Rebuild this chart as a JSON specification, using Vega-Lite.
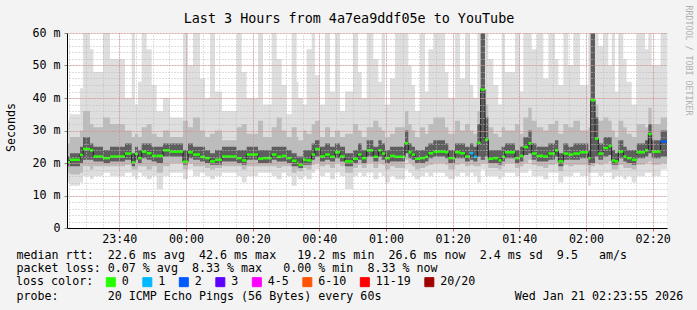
{
  "$schema": "https://vega.github.io/schema/vega-lite/v6.json",
  "width": 600,
  "height": 195,
  "autosize": {"type": "none"},
  "padding": {"left": 67, "top": 33, "right": 30, "bottom": 82},
  "background": "#f3f3f3",
  "config": {
    "font": "DejaVu Sans Mono",
    "view": {"stroke": null, "fill": "white"},
    "axis": {"labelFont": "DejaVu Sans Mono", "titleFont": "DejaVu Sans Mono", "labelFontSize": 11.66, "labelColor": "black", "titleFontWeight": "normal", "titleColor": "black", "titleFontSize": 11.66, "labelOverlap": false}
  },
  "data": {"values": [
    {"t":-35.7,"m":20.2,"lo":14,"l2":17,"l3":19,"h3":22,"h2":26,"hi":33,"c":"0"},
    {"t":-34.8,"m":21,"lo":13,"l2":16.5,"l3":19,"h3":23,"h2":28,"hi":35,"c":"0"},
    {"t":-31.8,"m":22.5,"lo":14,"l2":17,"l3":20,"h3":25,"h2":30,"hi":43,"c":"0"},
    {"t":-30.9,"m":24.3,"lo":16,"l2":19,"l3":21,"h3":28,"h2":36,"hi":60,"c":"0"},
    {"t":-28.8,"m":23.9,"lo":15,"l2":18,"l3":21,"h3":26,"h2":32,"hi":55,"c":"0"},
    {"t":-27.8,"m":22,"lo":16,"l2":19,"l3":20.5,"h3":25,"h2":31,"hi":48,"c":"0"},
    {"t":-24.9,"m":21.5,"lo":17,"l2":19,"l3":20,"h3":24,"h2":34,"hi":60,"c":"0"},
    {"t":-22.8,"m":22,"lo":16,"l2":19,"l3":20.5,"h3":25,"h2":32,"hi":52,"c":"0"},
    {"t":-18.3,"m":22.9,"lo":17,"l2":19.5,"l3":21,"h3":26,"h2":30,"hi":40,"c":"0"},
    {"t":-16.3,"m":20.2,"lo":16,"l2":18,"l3":19,"h3":23,"h2":28,"hi":60,"c":"0"},
    {"t":-15.3,"m":22.8,"lo":15,"l2":18,"l3":21,"h3":25,"h2":29,"hi":38,"c":"0"},
    {"t":-14.4,"m":21.5,"lo":17,"l2":19,"l3":20,"h3":24,"h2":28,"hi":45,"c":"0"},
    {"t":-13.3,"m":23.5,"lo":16,"l2":19,"l3":21.5,"h3":26,"h2":31,"hi":60,"c":"0"},
    {"t":-11.8,"m":23,"lo":15,"l2":18,"l3":21,"h3":26,"h2":32,"hi":55,"c":"0"},
    {"t":-10.3,"m":22.2,"lo":16,"l2":19,"l3":20.5,"h3":25,"h2":29,"hi":44,"c":"0"},
    {"t":-8.8,"m":22.2,"lo":12,"l2":17,"l3":20,"h3":25,"h2":28,"hi":36,"c":"0"},
    {"t":-6.9,"m":23.9,"lo":16,"l2":19,"l3":22,"h3":26,"h2":30,"hi":40,"c":"0"},
    {"t":-4.8,"m":23.5,"lo":17,"l2":20,"l3":22,"h3":26,"h2":28,"hi":34,"c":"0"},
    {"t":-0.9,"m":20.4,"lo":15,"l2":18,"l3":19.5,"h3":24,"h2":33,"hi":60,"c":"0"},
    {"t":0.6,"m":23.3,"lo":18,"l2":20,"l3":21.5,"h3":26,"h2":31,"hi":50,"c":"0"},
    {"t":2.1,"m":22.6,"lo":16,"l2":19,"l3":21,"h3":25,"h2":34,"hi":60,"c":"0"},
    {"t":4.2,"m":21.9,"lo":17,"l2":19,"l3":20.5,"h3":25,"h2":30,"hi":46,"c":"0"},
    {"t":5.7,"m":21.5,"lo":16,"l2":18.5,"l3":20,"h3":24,"h2":28,"hi":40,"c":"0"},
    {"t":7.2,"m":20.5,"lo":15,"l2":18,"l3":19.5,"h3":23,"h2":29,"hi":60,"c":"0"},
    {"t":8.7,"m":21,"lo":16,"l2":18.5,"l3":19.5,"h3":24,"h2":30,"hi":42,"c":"0"},
    {"t":10.8,"m":22,"lo":17,"l2":19,"l3":20.5,"h3":25,"h2":27,"hi":36,"c":"0"},
    {"t":15.2,"m":21.5,"lo":16,"l2":19,"l3":20,"h3":24,"h2":31,"hi":60,"c":"0"},
    {"t":16.7,"m":20.8,"lo":14,"l2":18,"l3":19.5,"h3":24,"h2":32,"hi":48,"c":"0"},
    {"t":18.2,"m":22.6,"lo":16,"l2":19,"l3":21,"h3":25,"h2":29,"hi":40,"c":"0"},
    {"t":21.6,"m":21.3,"lo":17,"l2":19,"l3":20,"h3":24,"h2":33,"hi":60,"c":"0"},
    {"t":23.1,"m":21.5,"lo":17,"l2":19,"l3":20,"h3":24,"h2":28,"hi":38,"c":"0"},
    {"t":25.7,"m":22.6,"lo":16,"l2":19,"l3":21,"h3":25,"h2":31,"hi":60,"c":"0"},
    {"t":27.2,"m":21.9,"lo":15,"l2":18.5,"l3":20.5,"h3":25,"h2":34,"hi":52,"c":"0"},
    {"t":28.7,"m":22.2,"lo":17,"l2":19,"l3":20.5,"h3":25,"h2":30,"hi":44,"c":"0"},
    {"t":30.2,"m":21.5,"lo":16,"l2":19,"l3":20,"h3":24,"h2":28,"hi":35,"c":"0"},
    {"t":31.7,"m":20.7,"lo":13,"l2":17,"l3":19,"h3":23,"h2":31,"hi":60,"c":"0"},
    {"t":33.2,"m":20,"lo":16,"l2":18,"l3":19,"h3":22,"h2":28,"hi":45,"c":"0"},
    {"t":33.7,"m":19.4,"lo":15,"l2":17.5,"l3":18.5,"h3":22,"h2":27,"hi":40,"c":"0"},
    {"t":35.1,"m":21,"lo":16,"l2":18.5,"l3":19.5,"h3":24,"h2":30,"hi":38,"c":"0"},
    {"t":36.2,"m":20.8,"lo":15,"l2":18,"l3":19.5,"h3":24,"h2":29,"hi":55,"c":"0"},
    {"t":37.7,"m":22.6,"lo":17,"l2":19.5,"l3":21,"h3":26,"h2":32,"hi":60,"c":"0"},
    {"t":38.7,"m":24.3,"lo":18,"l2":20,"l3":22,"h3":27,"h2":33,"hi":47,"c":"0"},
    {"t":40.2,"m":22,"lo":16,"l2":19,"l3":20.5,"h3":25,"h2":28,"hi":38,"c":"0"},
    {"t":41.7,"m":22.6,"lo":17,"l2":19.5,"l3":21,"h3":26,"h2":31,"hi":60,"c":"0"},
    {"t":43.2,"m":21.9,"lo":15,"l2":18.5,"l3":20.5,"h3":25,"h2":28,"hi":42,"c":"0"},
    {"t":44.7,"m":23.3,"lo":17,"l2":20,"l3":21.5,"h3":26,"h2":30,"hi":60,"c":"0"},
    {"t":46.2,"m":22,"lo":16,"l2":19,"l3":20.5,"h3":25,"h2":28,"hi":36,"c":"0"},
    {"t":47.7,"m":20.5,"lo":12,"l2":17,"l3":19,"h3":23,"h2":29,"hi":42,"c":"0"},
    {"t":50.1,"m":21.3,"lo":16,"l2":18.5,"l3":20,"h3":24,"h2":32,"hi":60,"c":"0"},
    {"t":51.6,"m":22.6,"lo":17,"l2":19.5,"l3":21,"h3":26,"h2":30,"hi":48,"c":"0"},
    {"t":52.7,"m":21.5,"lo":16,"l2":18.5,"l3":20,"h3":24,"h2":28,"hi":40,"c":"0"},
    {"t":54.2,"m":23.9,"lo":17,"l2":20,"l3":22,"h3":27,"h2":31,"hi":60,"c":"0"},
    {"t":56.2,"m":21.9,"lo":15,"l2":18.5,"l3":20.5,"h3":25,"h2":33,"hi":52,"c":"0"},
    {"t":57.7,"m":23.9,"lo":17,"l2":20,"l3":22,"h3":27,"h2":31,"hi":45,"c":"0"},
    {"t":58.7,"m":22.9,"lo":16,"l2":19.5,"l3":21,"h3":26,"h2":30,"hi":60,"c":"0"},
    {"t":59.7,"m":21.5,"lo":14,"l2":18,"l3":20,"h3":24,"h2":28,"hi":38,"c":"0"},
    {"t":61.2,"m":22.2,"lo":16,"l2":19,"l3":20.5,"h3":25,"h2":29,"hi":46,"c":"0"},
    {"t":62.7,"m":21.9,"lo":15,"l2":18.5,"l3":20.5,"h3":25,"h2":31,"hi":60,"c":"0"},
    {"t":65.7,"m":26.1,"lo":18,"l2":21,"l3":23,"h3":30,"h2":36,"hi":60,"c":"0"},
    {"t":66.7,"m":23.3,"lo":17,"l2":20,"l3":21.5,"h3":26,"h2":32,"hi":50,"c":"0"},
    {"t":67.7,"m":22.6,"lo":16,"l2":19,"l3":21,"h3":25,"h2":30,"hi":44,"c":"0"},
    {"t":68.7,"m":21.3,"lo":15,"l2":18,"l3":20,"h3":24,"h2":28,"hi":36,"c":"0"},
    {"t":70.2,"m":21.5,"lo":16,"l2":18.5,"l3":20,"h3":24,"h2":31,"hi":60,"c":"0"},
    {"t":71.7,"m":21.9,"lo":17,"l2":19,"l3":20.5,"h3":25,"h2":29,"hi":42,"c":"0"},
    {"t":72.7,"m":23,"lo":16,"l2":19.5,"l3":21.5,"h3":26,"h2":32,"hi":55,"c":"0"},
    {"t":74.2,"m":23.5,"lo":17,"l2":20,"l3":22,"h3":27,"h2":34,"hi":60,"c":"0"},
    {"t":77.7,"m":23.3,"lo":16,"l2":19.5,"l3":21.5,"h3":26,"h2":31,"hi":48,"c":"0"},
    {"t":78.7,"m":21.5,"lo":15,"l2":18,"l3":20,"h3":24,"h2":29,"hi":40,"c":"0"},
    {"t":80.7,"m":23.3,"lo":16,"l2":19.5,"l3":21.5,"h3":26,"h2":33,"hi":60,"c":"0"},
    {"t":82.2,"m":23,"lo":17,"l2":20,"l3":21.5,"h3":26,"h2":30,"hi":46,"c":"0"},
    {"t":83.7,"m":22,"lo":16,"l2":19,"l3":20.5,"h3":25,"h2":32,"hi":60,"c":"0"},
    {"t":85.2,"m":23,"lo":17,"l2":19.5,"l3":21,"h3":26,"h2":30,"hi":44,"c":"1"},
    {"t":86.2,"m":21.9,"lo":16,"l2":19,"l3":20.5,"h3":25,"h2":29,"hi":40,"c":"1"},
    {"t":87.4,"m":26.2,"lo":14,"l2":19,"l3":22,"h3":32,"h2":36,"hi":60,"c":"0"},
    {"t":88.4,"m":42.6,"lo":18,"l2":20,"l3":21,"h3":60,"h2":60,"hi":60,"c":"0"},
    {"t":89.7,"m":27.2,"lo":16,"l2":20,"l3":22,"h3":34,"h2":38,"hi":60,"c":"0"},
    {"t":90.7,"m":21.3,"lo":16,"l2":18.5,"l3":20,"h3":24,"h2":31,"hi":52,"c":"0"},
    {"t":92.2,"m":21.5,"lo":16,"l2":18.5,"l3":20,"h3":24,"h2":29,"hi":44,"c":"0"},
    {"t":93.7,"m":20.8,"lo":15,"l2":18,"l3":19.5,"h3":24,"h2":28,"hi":38,"c":"0"},
    {"t":94.7,"m":21.9,"lo":16,"l2":19,"l3":20.5,"h3":25,"h2":31,"hi":60,"c":"0"},
    {"t":95.7,"m":23.3,"lo":17,"l2":20,"l3":21.5,"h3":26,"h2":30,"hi":48,"c":"0"},
    {"t":98.7,"m":21.5,"lo":16,"l2":18.5,"l3":20,"h3":24,"h2":32,"hi":60,"c":"0"},
    {"t":100.2,"m":22.2,"lo":17,"l2":19,"l3":20.5,"h3":25,"h2":29,"hi":42,"c":"0"},
    {"t":101.2,"m":24.9,"lo":17,"l2":20,"l3":22.5,"h3":28,"h2":34,"hi":60,"c":"0"},
    {"t":102.7,"m":26.1,"lo":18,"l2":21,"l3":23,"h3":30,"h2":37,"hi":60,"c":"0"},
    {"t":103.7,"m":22.9,"lo":16,"l2":19.5,"l3":21,"h3":26,"h2":33,"hi":55,"c":"0"},
    {"t":105.2,"m":22.2,"lo":16,"l2":19,"l3":20.5,"h3":25,"h2":31,"hi":60,"c":"0"},
    {"t":107.2,"m":22,"lo":15,"l2":18.5,"l3":20.5,"h3":25,"h2":30,"hi":46,"c":"0"},
    {"t":108.7,"m":22.9,"lo":17,"l2":19.5,"l3":21,"h3":26,"h2":32,"hi":60,"c":"0"},
    {"t":110.7,"m":23.9,"lo":17,"l2":20,"l3":22,"h3":27,"h2":33,"hi":52,"c":"0"},
    {"t":111.7,"m":20.5,"lo":14,"l2":17.5,"l3":19,"h3":23,"h2":29,"hi":44,"c":"0"},
    {"t":113.2,"m":22.9,"lo":16,"l2":19.5,"l3":21,"h3":26,"h2":32,"hi":60,"c":"0"},
    {"t":114.7,"m":22.6,"lo":16,"l2":19,"l3":21,"h3":25,"h2":31,"hi":50,"c":"0"},
    {"t":116.2,"m":22.9,"lo":17,"l2":19.5,"l3":21,"h3":26,"h2":33,"hi":60,"c":"0"},
    {"t":118.2,"m":23.3,"lo":16,"l2":19.5,"l3":21.5,"h3":26,"h2":30,"hi":44,"c":"0"},
    {"t":120.7,"m":21.5,"lo":13,"l2":17,"l3":19.5,"h3":24,"h2":31,"hi":60,"c":"0"},
    {"t":121.4,"m":39.3,"lo":17,"l2":19,"l3":20,"h3":60,"h2":60,"hi":60,"c":"0"},
    {"t":122.7,"m":27.5,"lo":17,"l2":20,"l3":22,"h3":34,"h2":38,"hi":60,"c":"0"},
    {"t":123.7,"m":22.9,"lo":16,"l2":19.5,"l3":21,"h3":26,"h2":33,"hi":56,"c":"0"},
    {"t":125.2,"m":24.6,"lo":17,"l2":20,"l3":22,"h3":28,"h2":34,"hi":60,"c":"0"},
    {"t":126.7,"m":25.2,"lo":17,"l2":20.5,"l3":22.5,"h3":28,"h2":33,"hi":50,"c":"0"},
    {"t":127.7,"m":20.8,"lo":15,"l2":18,"l3":19.5,"h3":24,"h2":30,"hi":60,"c":"0"},
    {"t":128.7,"m":20.5,"lo":16,"l2":18,"l3":19.5,"h3":23,"h2":28,"hi":42,"c":"0"},
    {"t":129.7,"m":23.5,"lo":16,"l2":19.5,"l3":21.5,"h3":27,"h2":33,"hi":60,"c":"0"},
    {"t":131.2,"m":22,"lo":15,"l2":18.5,"l3":20.5,"h3":25,"h2":31,"hi":52,"c":"0"},
    {"t":132.2,"m":21.5,"lo":16,"l2":18.5,"l3":20,"h3":24,"h2":29,"hi":45,"c":"0"},
    {"t":133.7,"m":21,"lo":14,"l2":18,"l3":19.5,"h3":24,"h2":28,"hi":38,"c":"0"},
    {"t":135.2,"m":23.3,"lo":16,"l2":19.5,"l3":21.5,"h3":26,"h2":32,"hi":60,"c":"0"},
    {"t":137.7,"m":23.9,"lo":17,"l2":20,"l3":22,"h3":27,"h2":31,"hi":55,"c":"0"},
    {"t":138.7,"m":28.9,"lo":17,"l2":20.5,"l3":23,"h3":32,"h2":37,"hi":60,"c":"0"},
    {"t":139.7,"m":23.5,"lo":16,"l2":19.5,"l3":21.5,"h3":27,"h2":32,"hi":50,"c":"0"},
    {"t":142.4,"m":26.6,"lo":18,"l2":20,"l3":22,"h3":30,"h2":34,"hi":60,"c":"2"},
    {"t":144.3,"m":26.6,"lo":18,"l2":20,"l3":22,"h3":30,"h2":34,"hi":60,"c":"2"}
  ]},
  "layer": [
    {
      "mark": {"type": "area", "interpolate": "step-after", "color": "#dedede"},
      "encoding": {
        "x": {"field": "t", "type": "quantitative", "scale": {"domain": [-35.7, 144.3], "nice": false, "zero": false},
          "axis": {"orient": "top", "tickCount": 36, "labels": false, "ticks": false, "domain": false, "grid": true, "gridColor": "#bdbdbd", "gridDash": [1, 2], "zindex": 1,
            "title": "Last 3 Hours from 4a7ea9ddf05e to YouTube", "titleFontSize": 13.4, "titleAlign": "center", "titleAnchor": "middle", "titleBaseline": "alphabetic", "titleX": 281.5, "titleY": -10.5}},
        "y": {"field": "lo", "type": "quantitative", "scale": {"domain": [0, 60], "nice": false, "zero": true},
          "axis": {"orient": "right", "tickCount": 30, "labels": false, "ticks": false, "domain": false, "grid": true, "gridColor": "#bdbdbd", "gridDash": [1, 2], "zindex": 1,
            "title": "RRDTOOL / TOBI OETIKER", "titleFontSize": 8.3, "titleColor": "#b0b0b0", "titleAngle": 90, "titleAlign": "left", "titleBaseline": "middle", "titleX": 20, "titleY": -28}},
        "y2": {"field": "hi"}
      }
    },
    {
      "layer": [
        {
          "mark": {"type": "area", "interpolate": "step-after", "color": "#bcbcbc"},
          "encoding": {
            "x": {"field": "t", "type": "quantitative", "scale": {"domain": [-35.7, 144.3], "nice": false, "zero": false},
              "axis": {"orient": "bottom", "tickCount": 9, "labelExpr": "timeFormat(datetime(2026, 0, 21, 0, datum.value), '%H:%M')",
                "grid": true, "gridColor": "#e27a7a", "gridDash": [1, 2], "domainColor": "black", "tickColor": "#d06060", "tickSize": 3, "labelPadding": 2, "zindex": 1,
                "title": [
                  "median\u00a0rtt:\u00a0\u00a022.6\u00a0ms\u00a0avg\u00a0\u00a042.6\u00a0ms\u00a0max\u00a0\u00a0\u00a019.2\u00a0ms\u00a0min\u00a0\u00a026.6\u00a0ms\u00a0now\u00a0\u00a02.4\u00a0ms\u00a0sd\u00a0\u00a09.5\u00a0\u00a0\u00a0am/s",
                  "packet\u00a0loss:\u00a00.07\u00a0%\u00a0avg\u00a0\u00a08.33\u00a0%\u00a0max\u00a0\u00a0\u00a00.00\u00a0%\u00a0min\u00a0\u00a08.33\u00a0%\u00a0now",
                  "\u200b",
                  "probe:\u00a0\u00a0\u00a0\u00a0\u00a0\u00a0\u00a020\u00a0ICMP\u00a0Echo\u00a0Pings\u00a0(56\u00a0Bytes)\u00a0every\u00a060s\u00a0\u00a0\u00a0\u00a0\u00a0\u00a0\u00a0\u00a0\u00a0\u00a0\u00a0\u00a0\u00a0\u00a0\u00a0\u00a0\u00a0\u00a0\u00a0Wed\u00a0Jan\u00a021\u00a002:23:55\u00a02026"
                ],
                "titleX": -51, "titleY": 30, "titleAnchor": "start", "titleAlign": "left", "titleBaseline": "alphabetic", "titleLineHeight": 13.7}},
            "y": {"field": "l2", "type": "quantitative", "scale": {"domain": [0, 60], "nice": false, "zero": true},
              "axis": {"orient": "left", "tickCount": 6, "labelExpr": "datum.value == 0 ? '0\u00a0\u00a0' : datum.value + '\u00a0m'",
                "grid": true, "gridColor": "#e27a7a", "gridDash": [1, 2], "domainColor": "black", "tickColor": "#888888", "tickSize": 3, "labelPadding": 4, "zindex": 1,
                "title": "Seconds", "titleAngle": 270, "titleAlign": "center", "titleBaseline": "middle", "titleX": -56, "titleY": 94}},
            "y2": {"field": "h2"}
          }
        },
        {
          "mark": {"type": "area", "interpolate": "step-after", "color": "#5e5e5e"},
          "encoding": {
            "x": {"field": "t", "type": "quantitative", "scale": {"domain": [-35.7, 144.3], "nice": false, "zero": false}},
            "y": {"field": "l3", "type": "quantitative", "scale": {"domain": [0, 60], "nice": false, "zero": true}},
            "y2": {"field": "h3"}
          }
        },
        {
          "mark": {"type": "line", "interpolate": "step-after", "color": "#1e1e1e", "strokeWidth": 1},
          "encoding": {
            "x": {"field": "t", "type": "quantitative", "scale": {"domain": [-35.7, 144.3], "nice": false, "zero": false}},
            "y": {"field": "m", "type": "quantitative", "scale": {"domain": [0, 60], "nice": false, "zero": true}}
          }
        },
        {
          "transform": [
            {"window": [{"op": "lead", "field": "t", "as": "t2"}], "sort": [{"field": "t"}]},
            {"filter": "datum.t2 != null"}
          ],
          "mark": {"type": "rule", "strokeWidth": 2.5},
          "encoding": {
            "x": {"field": "t", "type": "quantitative", "scale": {"domain": [-35.7, 144.3], "nice": false, "zero": false}},
            "x2": {"field": "t2"},
            "y": {"field": "m", "type": "quantitative", "scale": {"domain": [0, 60], "nice": false, "zero": true}},
            "color": {"field": "c", "type": "nominal",
              "scale": {"domain": ["0", "1", "2", "3", "4-5", "6-10", "11-19", "20/20"], "range": ["#26ff00", "#00b8ff", "#0059ff", "#5e00ff", "#ff00ff", "#ff5500", "#ff0000", "#a00000"]},
              "legend": {"orient": "none", "legendX": -51, "legendY": 243, "direction": "horizontal", "title": "loss color:", "titleOrient": "left", "titlePadding": 11,
                "titleFont": "DejaVu Sans Mono", "titleFontWeight": "normal", "titleFontSize": 11.66, "titleColor": "black",
                "labelFont": "DejaVu Sans Mono", "labelFontSize": 11.66, "labelColor": "black", "labelOffset": 5, "columnPadding": 11.5,
                "symbolType": "square", "symbolSize": 81, "symbolStrokeWidth": 1, "symbolStrokeColor": "black", "symbolOpacity": 1,
                "encode": {"symbols": {"update": {"fill": {"scale": "color", "field": "value"}, "stroke": {"value": "black"}, "strokeWidth": {"value": 1}}}}}}
          }
        }
      ]
    }
  ],
  "resolve": {"axis": {"x": "independent", "y": "independent"}}
}
